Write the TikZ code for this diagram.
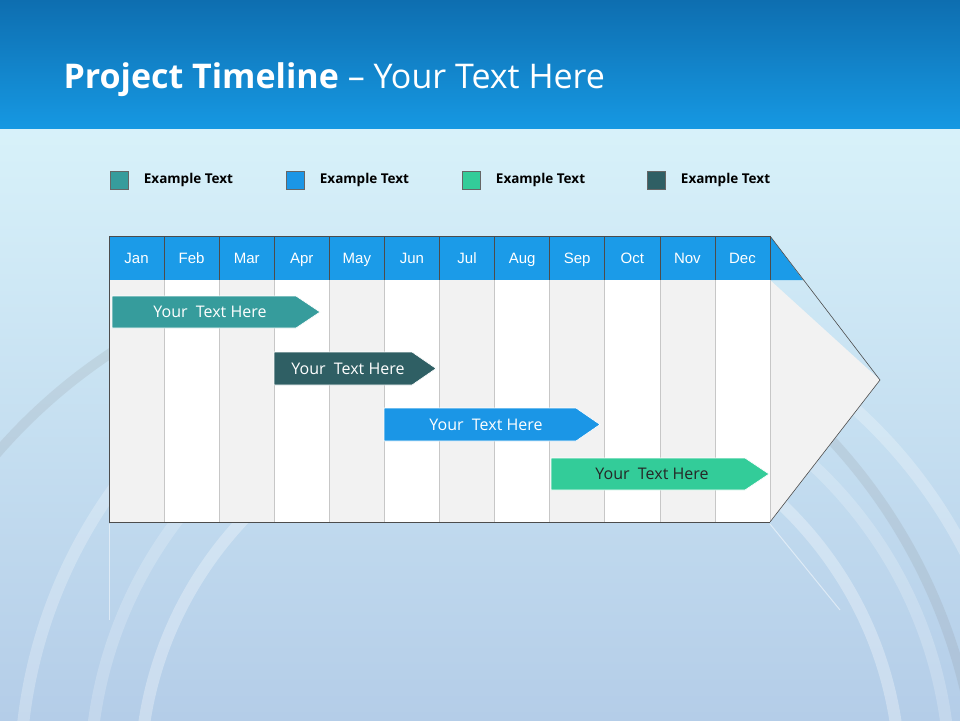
\documentclass[tikz,border=0pt]{standalone}
\usepackage{fontspec}
\setmainfont{Open Sans}
\newfontfamily\arialf{Liberation Sans}
\begin{document}
\begin{tikzpicture}[x=1pt,y=-1pt,
  bar/.style={draw=white,line width=0.6pt},
  bartext/.style={font=\fontsize{16}{19}\selectfont},
  legtext/.style={font=\bfseries\fontsize{13.5}{16}\selectfont,anchor=west},
  legbox/.style={draw=black!60,line width=0.4pt,minimum size=18pt,inner sep=0pt},
  month/.style={font=\arialf\fontsize{15}{17}\selectfont,text=white,text height=11pt,text depth=3pt}]
\definecolor{c1}{HTML}{369C9C}\definecolor{c2}{HTML}{1B96E6}
\definecolor{c3}{HTML}{33CC99}\definecolor{c4}{HTML}{2F5F64}
\definecolor{hdr}{HTML}{1B9BE8}\definecolor{gry}{HTML}{F2F2F2}
\definecolor{bgA}{HTML}{D8F2FA}\definecolor{bgB}{HTML}{B4CDE8}
\useasboundingbox (0,0) rectangle (960,720);
\shade[top color=bgA, bottom color=bgB] (0,120) rectangle (960,720);
\foreach \r/\o in {380/0.3,430/0.2,500/0.25}
  \draw[white,opacity=\o,line width=12pt] (520,780) circle (\r);
\draw[gray,opacity=0.15,line width=10pt] (420,820) circle (560);
\shade[top color={rgb,255:red,14;green,110;blue,176}, bottom color={rgb,255:red,22;green,152;blue,226}] (0,0) rectangle (960,128);
\node[anchor=west,text=white,font=\fontsize{34}{40}\selectfont] (title) at (60,80) {\textbf{Project Timeline} – Your Text Here};
% legend
\foreach \x/\c/\n in {110/c1/l1,286/c2/l2,462/c3/l3,647/c4/l4}{
  \node[legbox,fill=\c,anchor=north west] (\n) at (\x,171) {};
  \node[legtext] at ([xshift=12pt]\n.east) {Example Text};}
% chart
\fill[gry] (770,280) -- (880,380) -- (770,522) -- cycle;
\fill[hdr] (109,236) rectangle (770,280);
\fill[hdr] (770,236) -- (803,280) -- (770,280) -- cycle;
\foreach \m [count=\i] in {Jan,Feb,Mar,Apr,May,Jun,Jul,Aug,Sep,Oct,Nov,Dec}{
  \pgfmathsetmacro\xa{109+(\i-1)*55.08}
  \pgfmathsetmacro\xb{109+\i*55.08}
  \pgfmathparse{mod(\i,2)==1?"gry":"white"}
  \fill[\pgfmathresult] (\xa,280) rectangle (\xb,522);
  \node[month] (m\i) at ({(\xa+\xb)/2},259) {\m};}
\foreach \i in {1,...,12}{
  \pgfmathsetmacro\xb{109+\i*55.08}
  \draw[black!22,line width=0.5pt] (\xb,280) -- (\xb,522);
  \draw[black!70,line width=0.5pt] (\xb,236) -- (\xb,280);}
\draw[black!70,line width=0.6pt] (770,236) -- (109,236) -- (109,522) -- (770,522);
\draw[black!70,line width=0.6pt] (770,236) -- (880,380) -- (770,522);
% reflection
\draw[white,opacity=0.5,line width=1pt] (109,524) -- (109,620);
\draw[white,opacity=0.5,line width=1pt] (770,524) -- (840,610);
% bars
\draw[bar,fill=c1] (112,296) -- (296,296) -- (320,312) -- (296,328) -- (112,328) -- cycle;
\node[bartext,text=white] (b1) at (210,312) {Your\ \ Text Here};
\draw[bar,fill=c4] (274,352) -- (412,352) -- (436,368.5) -- (412,385) -- (274,385) -- cycle;
\node[bartext,text=white] (b2) at (348,368.5) {Your\ \ Text Here};
\draw[bar,fill=c2] (384,408) -- (576,408) -- (600,424.5) -- (576,441) -- (384,441) -- cycle;
\node[bartext,text=white] (b3) at (486,424.5) {Your\ \ Text Here};
\draw[bar,fill=c3] (551,458) -- (745,458) -- (769,474) -- (745,490) -- (551,490) -- cycle;
\node[bartext,text=black!85] (b4) at (652,474) {Your\ \ Text Here};
\end{tikzpicture}
\end{document}
